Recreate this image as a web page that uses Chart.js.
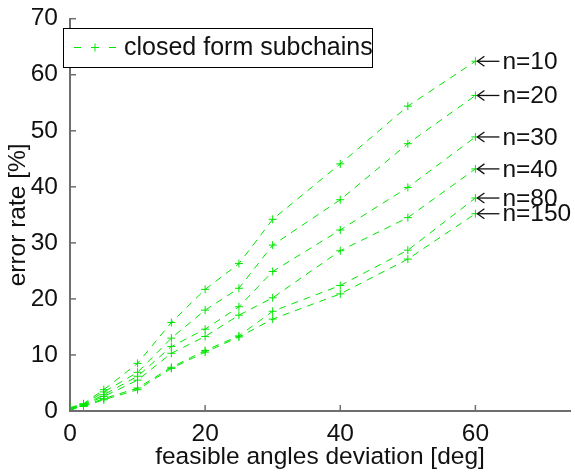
<!DOCTYPE html>
<html>
<head>
<meta charset="utf-8">
<script src="https://cdn.jsdelivr.net/npm/chart.js@4/dist/chart.umd.min.js"></script>
<style>
  html, body { margin: 0; padding: 0; background: #fff; }
  #wrap { width: 575px; height: 472px; }
</style>
</head>
<body>
<div id="wrap"><canvas id="errChart"></canvas></div>
<script>
// feasible angle deviation [deg]
const angles = [0, 2, 5, 10, 15, 20, 25, 30, 40, 50, 60];
const seriesNames = ['n=10', 'n=20', 'n=30', 'n=40', 'n=80', 'n=150'];
// error rate [%] per n
const rateN10  = [0.6, 1.3, 3.8, 8.5, 15.8, 21.7, 26.3, 34.2, 44.1, 54.4, 62.4];
const rateN20  = [0.5, 1.2, 3.4, 6.9, 13.0, 18.0, 21.9, 29.6, 37.7, 47.7, 56.3];
const rateN30  = [0.4, 1.1, 2.9, 6.2, 11.5, 14.6, 18.6, 24.9, 32.3, 39.9, 48.9];
const rateN40  = [0.4, 1.0, 2.6, 5.5, 10.3, 13.3, 17.1, 20.2, 28.6, 34.5, 43.2];
const rateN80  = [0.3, 0.9, 2.2, 4.1, 7.8, 10.8, 13.4, 17.8, 22.4, 28.7, 38.0];
const rateN150 = [0.3, 0.8, 2.0, 3.8, 7.6, 10.5, 13.2, 16.4, 20.9, 27.1, 35.2];
const xTicks = [0, 20, 40, 60];
const yTicks = [0, 10, 20, 30, 40, 50, 60, 70];
const legendText = 'closed form subchains';

const GREEN = '#00e600';
const FONT = '"Liberation Sans", Arial, sans-serif';
const FS = 24.5;
const allRates = [rateN10, rateN20, rateN30, rateN40, rateN80, rateN150];

const datasets = allRates.map((r, i) => ({
  label: seriesNames[i],
  data: angles.map((a, j) => ({ x: a, y: r[j] })),
  borderColor: GREEN,
  backgroundColor: GREEN,
  borderWidth: 1,
  borderDash: [7, 6],
  pointStyle: 'cross',
  pointRadius: 4,
  pointBorderWidth: 1,
  tension: 0
}));

// inward ticks, end labels with arrows, boxed legend
const decor = {
  id: 'decor',
  afterDraw(chart) {
    const c = chart.ctx, xs = chart.scales.x, ys = chart.scales.y;
    const a = chart.chartArea;
    c.save();
    c.strokeStyle = '#6e6e6e';
    c.lineWidth = 1.5;
    ys.ticks.forEach(t => {
      const py = ys.getPixelForValue(t.value);
      c.beginPath(); c.moveTo(a.left, py); c.lineTo(a.left + 6, py); c.stroke();
    });
    xs.ticks.forEach(t => {
      const px = xs.getPixelForValue(t.value);
      c.beginPath(); c.moveTo(px, a.bottom); c.lineTo(px, a.bottom - 6); c.stroke();
    });

    // arrows + labels at last point of each series
    c.strokeStyle = '#111';
    c.fillStyle = '#111';
    c.lineWidth = 1.3;
    c.font = FS + 'px ' + FONT;
    c.textBaseline = 'middle';
    const last = angles.length - 1;
    allRates.forEach((r, i) => {
      const px = xs.getPixelForValue(angles[last]);
      const py = ys.getPixelForValue(r[last]);
      const x0 = px + 2, x1 = px + 24;
      c.beginPath(); c.moveTo(x0, py); c.lineTo(x1, py); c.stroke();
      c.beginPath(); c.moveTo(x0 + 7, py - 5); c.lineTo(x0, py); c.lineTo(x0 + 7, py + 5); c.stroke();
      c.fillText(seriesNames[i], px + 27, py + 1);
    });

    // legend box
    const bx = 63, by = 28, bw = 309, bh = 39;
    c.fillStyle = '#fff';
    c.fillRect(bx, by, bw, bh);
    c.strokeStyle = '#000';
    c.lineWidth = 1;
    c.strokeRect(bx + 0.5, by + 0.5, bw, bh);
    const ly = by + bh / 2;
    c.strokeStyle = GREEN;
    c.beginPath(); c.moveTo(74, ly); c.lineTo(81, ly); c.stroke();
    c.beginPath(); c.moveTo(109, ly); c.lineTo(116, ly); c.stroke();
    c.beginPath(); c.moveTo(91, ly); c.lineTo(99, ly); c.moveTo(95, ly - 4); c.lineTo(95, ly + 4); c.stroke();
    c.fillStyle = '#111';
    c.font = '25px ' + FONT;
    c.textBaseline = 'middle';
    c.fillText(legendText, 124, ly + 1);
    c.restore();
  }
};

new Chart(document.getElementById('errChart').getContext('2d'), {
  type: 'line',
  data: { datasets },
  options: {
    responsive: true,
    maintainAspectRatio: false,
    animation: false,
    layout: { padding: { top: 15, right: 2, left: 0, bottom: 0 } },
    plugins: { legend: { display: false }, tooltip: { enabled: false } },
    scales: {
      x: {
        type: 'linear',
        min: 0, max: 74,
        afterBuildTicks: s => { s.ticks = xTicks.map(v => ({ value: v })); },
        afterFit: s => { s.height = 61; },
        grid: { display: false },
        border: { display: true, color: '#6e6e6e', width: 2 },
        ticks: { color: '#111', font: { size: FS, family: FONT }, padding: 1, maxRotation: 0 },
        title: { display: true, text: 'feasible angles deviation [deg]', color: '#111',
                 font: { size: FS, family: FONT }, padding: { top: 0, bottom: 0 } }
      },
      y: {
        min: 0, max: 70,
        afterBuildTicks: s => { s.ticks = yTicks.map(v => ({ value: v })); },
        afterFit: s => { s.width = 70; },
        grid: { display: false },
        border: { display: true, color: '#6e6e6e', width: 2 },
        ticks: { color: '#111', font: { size: FS, family: FONT }, padding: 4 },
        title: { display: true, text: 'error rate [%]', color: '#111',
                 font: { size: FS, family: FONT }, padding: { top: 4, bottom: 0 } }
      }
    }
  },
  plugins: [decor]
});
</script>
</body>
</html>
